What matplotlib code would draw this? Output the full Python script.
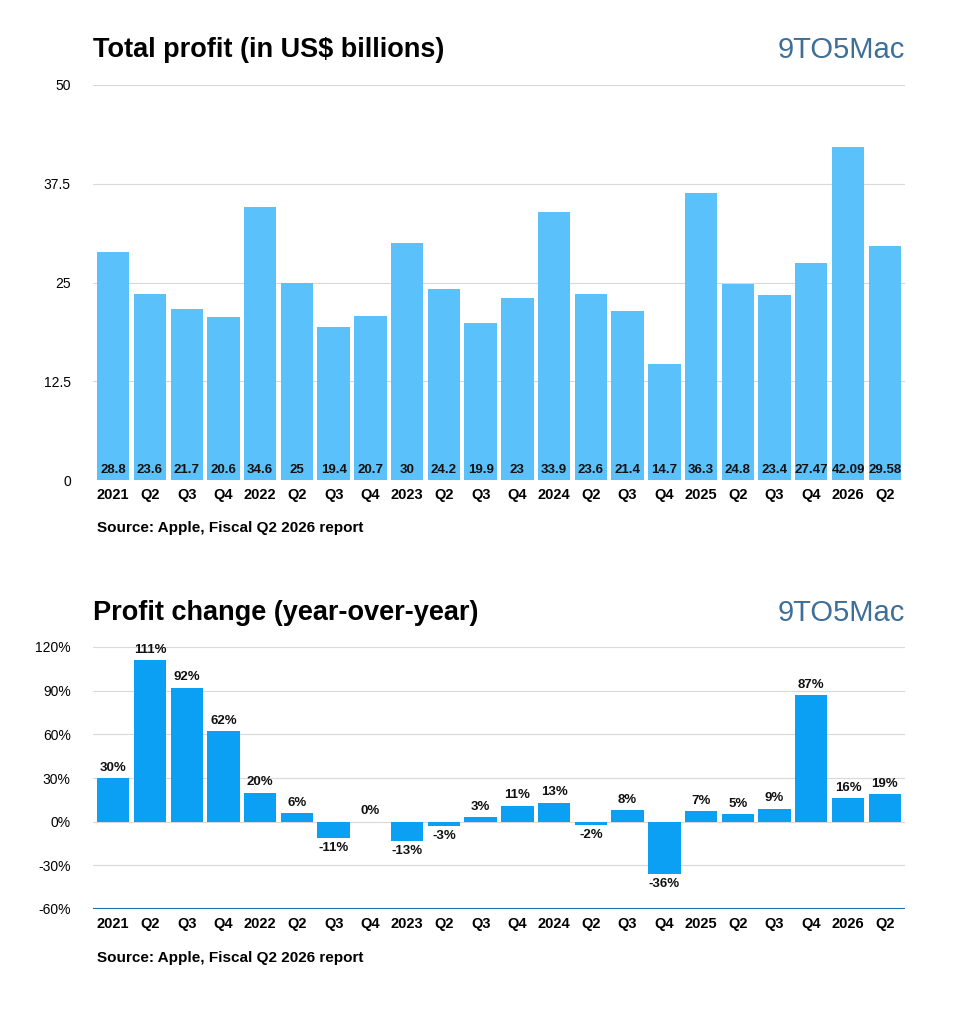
import matplotlib
matplotlib.use("Agg")
import matplotlib.pyplot as plt

quarters = ["2021","Q2","Q3","Q4","2022","Q2","Q3","Q4","2023","Q2","Q3","Q4",
            "2024","Q2","Q3","Q4","2025","Q2","Q3","Q4","2026","Q2"]
profit = [28.8,23.6,21.7,20.6,34.6,25,19.4,20.7,30,24.2,19.9,23,33.9,23.6,21.4,14.7,
          36.3,24.8,23.4,27.47,42.09,29.58]
profit_labels = ["28.8","23.6","21.7","20.6","34.6","25","19.4","20.7","30","24.2","19.9","23",
                 "33.9","23.6","21.4","14.7","36.3","24.8","23.4","27.47","42.09","29.58"]
yoy = [30,111,92,62,20,6,-11,0,-13,-3,3,11,13,-2,8,-36,7,5,9,87,16,19]

plt.rcParams['font.family'] = ['Liberation Sans', 'DejaVu Sans']
fig = plt.figure(figsize=(9.73, 10.24), dpi=100)
W, H = 973, 1024

def add_ax(l, r, top, bot):
    return fig.add_axes([l/W, 1-bot/H, (r-l)/W, (bot-top)/H])

x = list(range(len(quarters)))
grid_c = "#d9d9d9"

ax1 = add_ax(93, 905, 85, 480)
ax1.bar(x, profit, width=0.88, color="#5ac1fb", zorder=2)
ax1.set_xlim(-0.55, 21.55)
ax1.set_ylim(0, 50)
ax1.set_yticks([0, 12.5, 25, 37.5, 50])
ax1.set_yticklabels(["0", "12.5", "25", "37.5", "50"])
ax1.grid(axis="y", color=grid_c, lw=0.8, zorder=0)
for i, s in enumerate(profit_labels):
    ax1.text(i, 0.5, s, ha="center", va="bottom", fontsize=9.5, fontweight="bold", color="#111")
ax1.set_xticks(x)
ax1.set_xticklabels(quarters)

ax2 = add_ax(93, 905, 647, 909)
ax2.bar(x, yoy, width=0.88, color="#0ca0f5", zorder=2)
ax2.set_xlim(-0.55, 21.55)
ax2.set_ylim(-60, 120)
ax2.set_yticks(range(-60, 121, 30))
ax2.set_yticklabels([f"{v}%" for v in range(-60, 121, 30)])
ax2.grid(axis="y", color=grid_c, lw=0.8, zorder=0)
for i, v in enumerate(yoy):
    if v >= 0:
        ax2.text(i, v + 3, f"{v}%", ha="center", va="bottom", fontsize=9.5, fontweight="bold", color="#111")
    else:
        ax2.text(i, v - 3, f"{v}%", ha="center", va="top", fontsize=9.5, fontweight="bold", color="#111")
ax2.set_xticks(x)
ax2.set_xticklabels(quarters)

for ax in (ax1, ax2):
    for s in ["top", "right", "left", "bottom"]:
        ax.spines[s].set_visible(False)
    ax.tick_params(axis="both", length=0)
    ax.tick_params(axis="x", labelsize=10.5, pad=6)
    ax.tick_params(axis="y", labelsize=10, pad=16)
    for lab in ax.get_xticklabels():
        lab.set_fontweight("bold")
ax2.axhline(-60, color="#1f6fb3", lw=1.5, zorder=3)

fig.text(93/W, 1-50/H, "Total profit (in US$ billions)", fontsize=19.5, fontweight="bold", va="center")
fig.text(93/W, 1-613/H, "Profit change (year-over-year)", fontsize=19.5, fontweight="bold", va="center")
for yy in (50, 613):
    fig.text(905/W, 1-yy/H, "9TO5Mac", fontsize=21, color="#3d6f99", ha="right", va="center")
fig.text(97/W, 1-528/H, "Source: Apple, Fiscal Q2 2026 report", fontsize=11, fontweight="bold", va="center")
fig.text(97/W, 1-958/H, "Source: Apple, Fiscal Q2 2026 report", fontsize=11, fontweight="bold", va="center")

fig.savefig("out.png", dpi=100, facecolor="white")
